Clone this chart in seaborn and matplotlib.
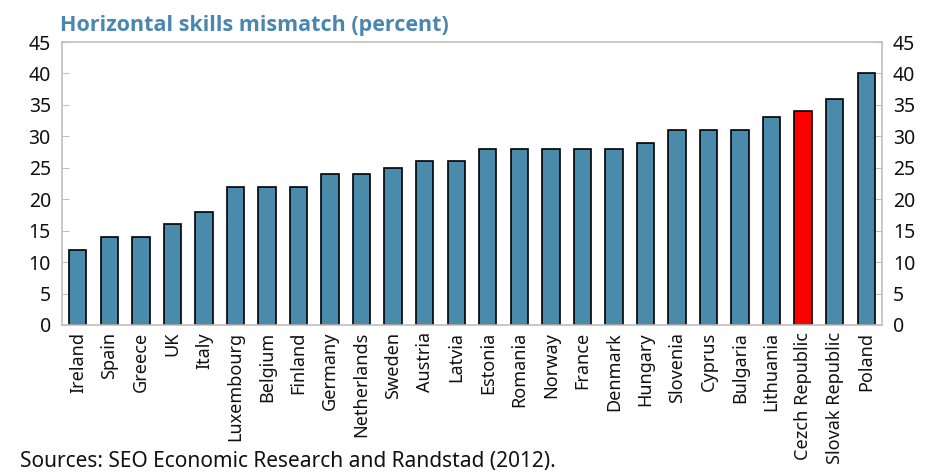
import matplotlib
matplotlib.use("Agg")
import matplotlib.pyplot as plt
import seaborn as sns
import pandas as pd

countries = ["Ireland", "Spain", "Greece", "UK", "Italy", "Luxembourg", "Belgium",
             "Finland", "Germany", "Netherlands", "Sweden", "Austria", "Latvia",
             "Estonia", "Romania", "Norway", "France", "Denmark", "Hungary",
             "Slovenia", "Cyprus", "Bulgaria", "Lithuania", "Cezch Republic",
             "Slovak Republic", "Poland"]
values = [12, 14, 14, 16, 18, 22, 22, 22, 24, 24, 25, 26, 26, 28, 28, 28, 28, 28,
          29, 31, 31, 31, 33, 34, 36, 40]
highlight = "Cezch Republic"
yticks = [0, 5, 10, 15, 20, 25, 30, 35, 40, 45]

sns.set_style("white")
plt.rcParams['font.family'] = ['Noto Sans', 'DejaVu Sans']

df = pd.DataFrame({"country": countries, "value": values})
df["group"] = ["hl" if c == highlight else "base" for c in countries]

fig = plt.figure(figsize=(9.37, 4.72), dpi=100)
ax = fig.add_axes([62/937, 1 - 325/472, 820/937, 283/472])

sns.barplot(data=df, x="country", y="value", hue="group",
            palette={"base": "#4a8aab", "hl": "#ff0000"}, dodge=False, saturation=1,
            width=0.55, edgecolor="black", linewidth=1.2, legend=False, ax=ax)

ax.set_ylim(0, 45)
ax.set_xlim(-0.5, len(countries) - 0.5)
ax.set_yticks(yticks)
ax.set_xlabel("")
ax.set_ylabel("")
for s in ax.spines.values():
    s.set_color("#bfbfbf")
    s.set_linewidth(1.2)
ax.tick_params(axis="y", direction="in", length=5, color="#bfbfbf",
               labelsize=14, pad=8, left=True, right=True, labelright=True)
ax.tick_params(axis="x", which="major", length=0, labelsize=13, rotation=90, pad=5)
ax.set_xticks([i + 0.5 for i in range(len(countries) - 1)], minor=True)
ax.tick_params(axis="x", which="minor", direction="in", length=4, color="#bfbfbf")
for lbl in ax.get_yticklabels() + ax.get_xticklabels():
    lbl.set_color("#111111")

fig.text(60/937, 1 - 25/472, "Horizontal skills mismatch (percent)",
         fontsize=15.5, fontweight="bold", family=["Open Sans", "DejaVu Sans"],
         color="#4a86b0", va="center", ha="left")
fig.text(20/937, 1 - 462/472, "Sources: SEO Economic Research and Randstad (2012).",
         fontsize=15, color="#111111", va="center", ha="left")

fig.savefig("out.png", dpi=100)
